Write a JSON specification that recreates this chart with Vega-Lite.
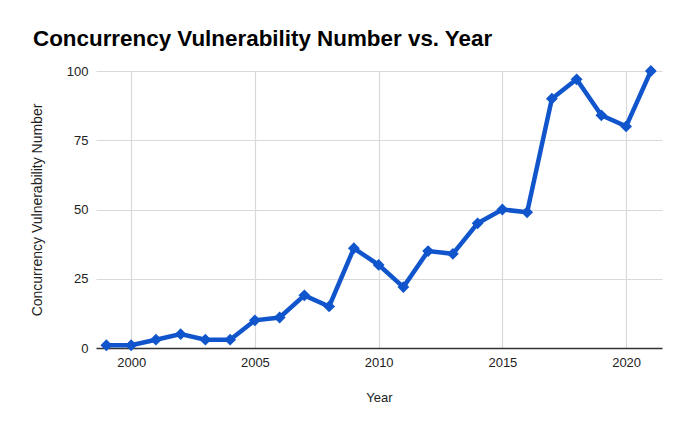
{
  "$schema": "https://vega.github.io/schema/vega-lite/v6.json",
  "width": 566,
  "height": 277,
  "autosize": {"type": "none"},
  "padding": {"left": 96, "top": 71, "right": 22, "bottom": 73},
  "background": "white",
  "title": {
    "text": "Concurrency Vulnerability Number vs. Year",
    "anchor": "start",
    "frame": "group",
    "dx": -63,
    "offset": 12,
    "font": "Liberation Sans",
    "fontSize": 22.4,
    "fontWeight": "bold",
    "color": "#000000"
  },
  "data": {
    "values": [
      {"Year": 1999, "Number": 1},
      {"Year": 2000, "Number": 1},
      {"Year": 2001, "Number": 3},
      {"Year": 2002, "Number": 5},
      {"Year": 2003, "Number": 3},
      {"Year": 2004, "Number": 3},
      {"Year": 2005, "Number": 10},
      {"Year": 2006, "Number": 11},
      {"Year": 2007, "Number": 19},
      {"Year": 2008, "Number": 15},
      {"Year": 2009, "Number": 36},
      {"Year": 2010, "Number": 30},
      {"Year": 2011, "Number": 22},
      {"Year": 2012, "Number": 35},
      {"Year": 2013, "Number": 34},
      {"Year": 2014, "Number": 45},
      {"Year": 2015, "Number": 50},
      {"Year": 2016, "Number": 49},
      {"Year": 2017, "Number": 90},
      {"Year": 2018, "Number": 97},
      {"Year": 2019, "Number": 84},
      {"Year": 2020, "Number": 80},
      {"Year": 2021, "Number": 100}
    ]
  },
  "mark": {
    "type": "line",
    "color": "#1155cc",
    "strokeWidth": 4.5,
    "point": {"shape": "diamond", "size": 140, "filled": true, "color": "#1155cc"}
  },
  "encoding": {
    "x": {
      "field": "Year",
      "type": "quantitative",
      "scale": {"domain": [1998.58, 2021.45], "nice": false, "zero": false},
      "axis": {
        "values": [2000, 2005, 2010, 2015, 2020],
        "format": "d",
        "title": "Year",
        "titlePadding": 22,
        "domain": true,
        "domainColor": "#333333",
        "domainWidth": 1.5,
        "ticks": false,
        "labelPadding": 8,
        "grid": true,
        "gridColor": "#d9d9d9",
        "gridWidth": 1.2
      }
    },
    "y": {
      "field": "Number",
      "type": "quantitative",
      "scale": {"domain": [0, 100], "nice": false},
      "axis": {
        "values": [0, 25, 50, 75, 100],
        "title": "Concurrency Vulnerability Number",
        "titlePadding": 22,
        "titleFontSize": 14,
        "domain": false,
        "ticks": false,
        "labelPadding": 8,
        "grid": true,
        "gridColor": "#d9d9d9",
        "gridWidth": 1.2
      }
    }
  },
  "config": {
    "view": {"stroke": null},
    "axis": {
      "labelFont": "Liberation Sans",
      "labelFontSize": 13,
      "labelColor": "#222222",
      "titleFont": "Liberation Sans",
      "titleFontSize": 13,
      "titleFontWeight": "normal",
      "titleColor": "#222222"
    }
  }
}
